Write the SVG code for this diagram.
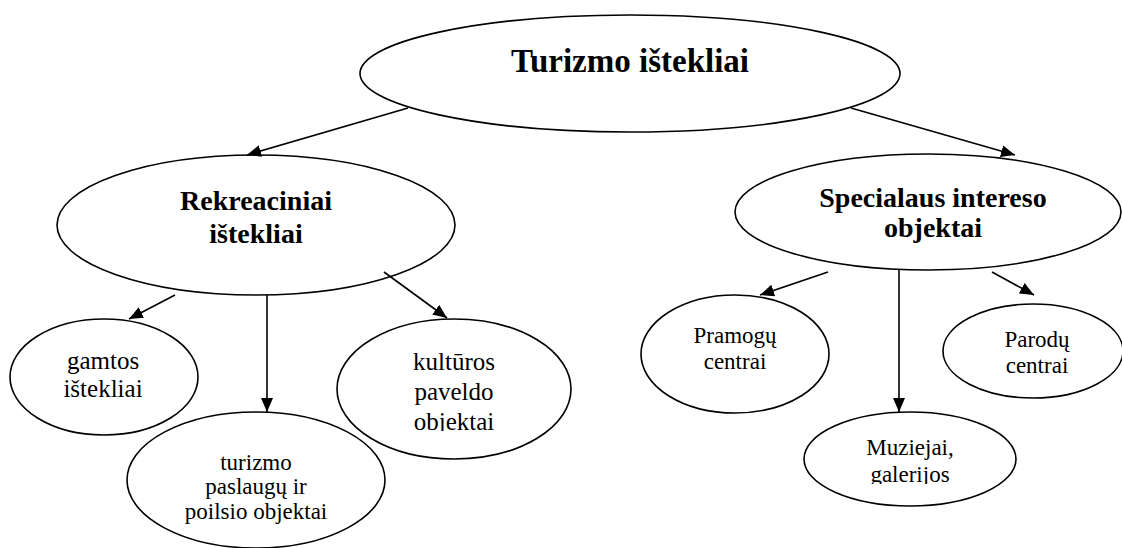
<svg xmlns="http://www.w3.org/2000/svg" width="1122" height="548" viewBox="0 0 1122 548">
<style>
.n{fill:#fff;stroke:#000;stroke-width:1.6}
.c{stroke:#000;stroke-width:1.6;fill:none;marker-end:url(#ah)}
.b{font-family:'Liberation Serif','Times New Roman',Times,'DejaVu Serif',serif;font-weight:bold;text-anchor:middle;fill:#000}
.t{font-family:'Liberation Serif','Times New Roman',Times,'DejaVu Serif',serif;text-anchor:middle;fill:#000}
</style>
<defs>
<marker id="ah" markerUnits="userSpaceOnUse" markerWidth="15" markerHeight="13" refX="14" refY="6" orient="auto">
<path d="M0,0 L14,6 L0,12 z" fill="#000"/>
</marker>
<clipPath id="clipK"><rect x="330" y="300" width="250" height="131"/></clipPath>
<clipPath id="clipM"><rect x="800" y="400" width="220" height="84"/></clipPath>
</defs>
<rect width="1122" height="548" fill="#fff"/>
<g id="node-turizmo">
<ellipse class="n" cx="630" cy="73.5" rx="270" ry="58.5"/>
<text class="b" x="630" y="72" font-size="33">Turizmo ištekliai</text>
</g>
<g id="node-rekreaciniai">
<ellipse class="n" cx="256" cy="225" rx="199" ry="70"/>
<text class="b" x="256" y="210" font-size="28">Rekreaciniai</text>
<text class="b" x="256" y="243" font-size="28">ištekliai</text>
</g>
<g id="node-specialaus">
<ellipse class="n" cx="928" cy="212" rx="193" ry="58"/>
<text class="b" x="933" y="207" font-size="28">Specialaus intereso</text>
<text class="b" x="933" y="237" font-size="28">objektai</text>
</g>
<g id="node-gamtos">
<ellipse class="n" cx="104" cy="377" rx="94" ry="58"/>
<text class="t" x="103" y="369" font-size="25">gamtos</text>
<text class="t" x="103" y="397" font-size="25">ištekliai</text>
</g>
<g id="node-turizmo-paslaugu">
<ellipse class="n" cx="256" cy="480" rx="129" ry="68"/>
<text class="t" x="256" y="470" font-size="23">turizmo</text>
<text class="t" x="256" y="494" font-size="23">paslaugų ir</text>
<text class="t" x="256" y="519" font-size="23">poilsio objektai</text>
</g>
<g id="node-kulturos">
<ellipse class="n" cx="454" cy="389" rx="117" ry="70"/>
<g clip-path="url(#clipK)">
<text class="t" x="454" y="370" font-size="25">kultūros</text>
<text class="t" x="454" y="400" font-size="25">paveldo</text>
<text class="t" x="454" y="430" font-size="25">objektai</text>
</g>
</g>
<g id="node-pramogu">
<ellipse class="n" cx="735" cy="354" rx="94" ry="59"/>
<text class="t" x="735" y="343" font-size="23">Pramogų</text>
<text class="t" x="735" y="369" font-size="23">centrai</text>
</g>
<g id="node-muziejai">
<ellipse class="n" cx="910" cy="459" rx="106" ry="47"/>
<g clip-path="url(#clipM)">
<text class="t" x="910" y="455" font-size="23">Muziejai,</text>
<text class="t" x="910" y="482" font-size="23">galerijos</text>
</g>
</g>
<g id="node-parodu">
<ellipse class="n" cx="1033" cy="351" rx="90" ry="47"/>
<text class="t" x="1037" y="347" font-size="23">Parodų</text>
<text class="t" x="1037" y="373" font-size="23">centrai</text>
</g>
<g id="connectors">
<line class="c" x1="408" y1="108" x2="247" y2="155"/>
<line class="c" x1="851" y1="108" x2="1015" y2="155"/>
<line class="c" x1="175" y1="295" x2="129" y2="319"/>
<line class="c" x1="267" y1="295" x2="267" y2="412"/>
<line class="c" x1="384" y1="272" x2="447" y2="318"/>
<line class="c" x1="828" y1="272" x2="760" y2="295"/>
<line class="c" x1="899" y1="270" x2="899" y2="412"/>
<line class="c" x1="992" y1="272" x2="1034" y2="295"/>
</g>
</svg>
